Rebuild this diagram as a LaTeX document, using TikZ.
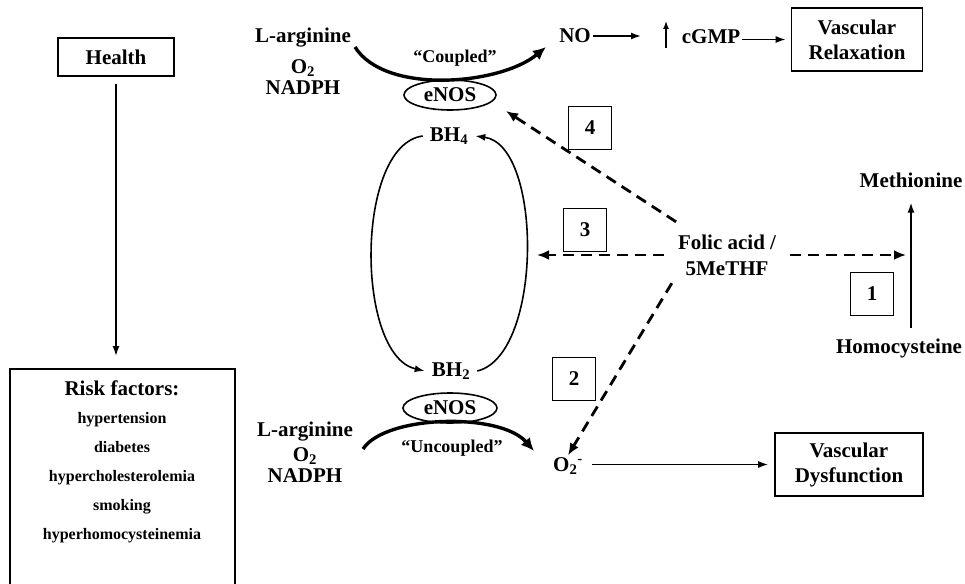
\documentclass[tikz,border=0pt]{standalone}
\usepackage{fontspec}
\setmainfont{Liberation Serif}
\usetikzlibrary{shapes.geometric,arrows.meta}

\begin{document}
\begin{tikzpicture}[x=1pt, y=-1pt,
    txt/.style={font=\fontsize{21}{25}\selectfont\bfseries, align=center, inner sep=2pt},
    riskitem/.style={font=\fontsize{16}{16}\selectfont\bfseries, inner sep=0pt},
    tag/.style={font=\fontsize{18}{18}\selectfont\bfseries, inner sep=0pt},
    box/.style={txt, draw, line width=1.6pt},
    numbox/.style={box, minimum width=43pt, minimum height=43pt, inner sep=0pt},
    enzyme/.style={txt, draw, ellipse, line width=1.6pt, minimum width=92pt, minimum height=30pt, inner sep=0pt},
    arr/.style={line width=1.6pt, -{Latex[length=10pt,width=7pt]}},
    bigarr/.style={line width=3.4pt, -{Latex[length=13pt,width=12pt]}},
    dasharr/.style={line width=2.8pt, dash pattern=on 11pt off 7pt, -{Latex[length=12pt,width=10pt]}}]
        \useasboundingbox (0,0) rectangle (965,583);

        % health and risk factors
        \node[box, minimum width=116pt, minimum height=38pt] (health) at (116,57) {Health};
        \node[draw, line width=1.6pt, minimum width=225pt, minimum height=240pt, anchor=north] (risk) at (122.5,368) {};
        \node[txt, anchor=base] (risktitle) at (122,395) {Risk factors:};
        \foreach \rf [count=\i] in {hypertension, diabetes, hypercholesterolemia, smoking, hyperhomocysteinemia}
            \node[riskitem, anchor=base] (rf\i) at (122,{394+29*\i}) {\rf};
        \draw[arr, shorten <=7pt, shorten >=12pt] (health.south) -- (health.south |- risk.north);

        % coupled eNOS
        \node[txt, font=\fontsize{21}{21}\selectfont\bfseries] (subtop) at (303,61) {L-arginine\\[10pt]O\textsubscript{2}\\NADPH};
        \node[enzyme] (enos1) at (450,95) {eNOS};
        \node[tag] (coupled) at (455,58) {``Coupled''};
        \coordinate (cpl1) at (355,47);
        \coordinate (cpl2) at (546,47);
        \draw[bigarr] (cpl1) .. controls (385,95) and (500,85) .. (cpl2);
        \node[txt] (no) at (575,36) {NO};
        \coordinate (noend) at (641,36);
        \draw[arr] (no) -- (noend);
        \coordinate (upbot) at (666,48);
        \coordinate (uptop) at (666,21);
        \draw[line width=1.4pt, -{Latex[length=8pt,width=6pt]}] (upbot) -- (uptop);
        \node[txt] (cgmp) at (711,37) {cGMP};
        \node[box, minimum width=131pt, minimum height=63pt] (relax) at (857,39.5) {Vascular\\Relaxation};
        \draw[arr, shorten >=5pt] (cgmp.east |- relax.west) -- (relax.west);

        % BH4 / BH2 cycle
        \node[txt, inner xsep=7pt] (bh4) at (449,136) {BH\textsubscript{4}};
        \node[txt, inner xsep=7pt] (bh2) at (451,371) {BH\textsubscript{2}};
        \draw[arr] (bh4.west) .. controls (355,145) and (355,355) .. (bh2.west);
        \draw[arr] (bh2.east) .. controls (543,355) and (543,145) .. (bh4.east);

        % uncoupled eNOS
        \node[enzyme, minimum width=94pt] (enos2) at (450,408) {eNOS};
        \node[txt, font=\fontsize{21}{21}\selectfont\bfseries] (subbot) at (305,452) {L-arginine\\[4pt]O\textsubscript{2}\\NADPH};
        \coordinate (ucp1) at (363,449);
        \coordinate (ucp2) at (534,451);
        \draw[bigarr] (ucp1) .. controls (385,415) and (500,412) .. (ucp2);
        \node[tag] (uncoupled) at (452,448) {``Uncoupled''};
        \node[txt] (o2m) at (568,466) {O\textsubscript{2}\textsuperscript{-}};
        \node[box, minimum width=148pt, minimum height=63pt] (dysf) at (849,464.5) {Vascular\\Dysfunction};
        \draw[arr, shorten <=7pt, shorten >=6pt] (o2m.east |- dysf.west) -- (dysf.west);

        % folate and homocysteine
        \node[txt, font=\fontsize{21}{26}\selectfont\bfseries, minimum width=126pt, minimum height=66pt] (folic) at (727,255) {Folic acid /\\5MeTHF};
        \node[txt] (met) at (911,180) {Methionine};
        \node[txt] (hcy) at (899,348) {Homocysteine};
        \draw[arr, shorten <=8pt, shorten >=13pt] (hcy.north -| met.south) -- (met.south);

        % numbered effects
        \node[numbox] (n4) at (590,128) {4};
        \node[numbox] (n3) at (585,230) {3};
        \node[numbox] (n2) at (574,379) {2};
        \node[numbox] (n1) at (872,294) {1};
        \coordinate (n4tip) at (506,111);
        \coordinate (n3tip) at (537,255);
        \coordinate (n1tip) at (906,255);
        \draw[dasharr] (folic) -- (n4tip);
        \draw[dasharr] (folic) -- (n3tip);
        \draw[dasharr] (folic) -- (n1tip);
        \draw[dasharr] ([xshift=8pt,yshift=5pt]folic.south west) -- (o2m.north);
    \end{tikzpicture}
\end{document}
